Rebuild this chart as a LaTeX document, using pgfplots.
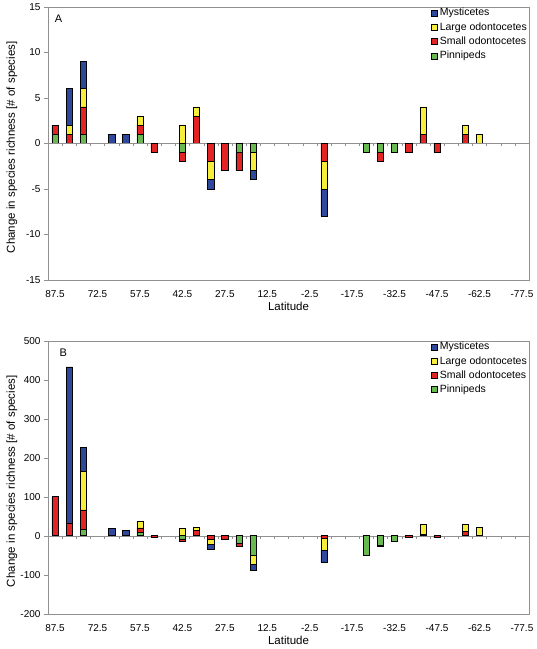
\documentclass[border=0pt]{standalone}
\usepackage{fontspec}
\setmainfont{Liberation Sans}
\usepackage{pgfplots}
\pgfplotsset{compat=1.18}
\definecolor{myst}{RGB}{46,72,156}
\definecolor{large}{RGB}{246,238,58}
\definecolor{small}{RGB}{226,36,36}
\definecolor{pinn}{RGB}{104,186,80}
\definecolor{framegray}{RGB}{145,145,145}
\pgfplotsset{
  common/.style={
    scale only axis, width=481pt, height=273pt,
    xmin=-80, xmax=90, x dir=reverse,
    ybar stacked, bar width=2.2,
    every axis plot/.append style={draw=black, line width=0.5pt},
    font=\fontsize{10}{12}\selectfont,
  },
  mainax/.style={
    common,
    axis line style={framegray},
    xtick={87.5,72.5,57.5,42.5,27.5,12.5,-2.5,-17.5,-32.5,-47.5,-62.5,-77.5},
    xticklabels={87.5,72.5,57.5,42.5,27.5,12.5,-2.5,-17.5,-32.5,-47.5,-62.5,-77.5},
    x tick style={draw=none},
    xticklabel style={yshift=-3pt},
    ytick pos=left, y tick style={framegray}, tick align=outside, major tick length=4pt,
    xlabel={Latitude},
    ylabel={Change in species richness [\# of species]},
    every axis x label/.style={at={(rel axis cs:0.5,0)}, anchor=center, yshift=-27pt,
      font=\fontsize{11.5}{13}\selectfont},
    every axis y label/.style={at={(rel axis cs:0,0.5)}, xshift=-36pt, yshift=-4pt, rotate=90, anchor=center,
      font=\fontsize{11.5}{13}\selectfont},
    reverse legend,
    legend cell align=left,
    legend style={at={(1,1.006)}, anchor=north east, draw=none, fill=none,
      font=\fontsize{10.5}{12}\selectfont, row sep=1.2pt, inner xsep=0pt, inner ysep=1pt},
    legend image code/.code={\draw[#1, draw=black, line width=0.5pt] (0pt,-3pt) rectangle (6pt,3pt);},
  },
  negax/.style={
    common,
    axis y line=none, axis x line=middle,
    x axis line style={-, draw=framegray},
    xtick={-80,-75,...,90}, xticklabels={},
    x tick style={draw=framegray}, tick align=outside, major tick length=3pt,
  },
}
% Panel A
\pgfplotstableread{
lat P S L M
87.5 1 1 0 0
82.5 0 1 1 4
77.5 1 3 2 3
67.5 0 0 0 1
62.5 0 0 0 1
57.5 1 1 1 0
42.5 0 0 2 0
37.5 0 3 1 0
-42.5 0 1 3 0
-57.5 0 1 1 0
-62.5 0 0 1 0
}\posA
\pgfplotstableread{
lat P S L M
52.5 0 -1 0 0
42.5 -1 -1 0 0
32.5 0 -2 -2 -1
27.5 0 -3 0 0
22.5 -1 -2 0 0
17.5 -1 0 -2 -1
-7.5 0 -2 -3 -3
-22.5 -1 0 0 0
-27.5 -1 -1 0 0
-32.5 -1 0 0 0
-37.5 0 -1 0 0
-47.5 0 -1 0 0
}\negA
% Panel B
\pgfplotstableread{
lat P S L M
87.5 0 100 0 0
82.5 0 33 0 400
77.5 16 50 99 61
67.5 0 0 0 18
62.5 0 0 0 14
57.5 8 12 17 0
42.5 0 0 19 0
37.5 0 13 8 0
-42.5 0 3 26 0
-57.5 0 12 17 0
-62.5 0 0 21 0
}\posB
\pgfplotstableread{
lat P S L M
52.5 0 -5 0 0
42.5 -9 -4 0 0
32.5 0 -8 -13 -13
27.5 0 -9 0 0
22.5 -19 -7 0 0
17.5 -50 0 -22 -16
-7.5 0 -7 -30 -32
-22.5 -50 0 0 0
-27.5 -25 -3 0 0
-32.5 -13 0 0 0
-37.5 0 -3 0 0
-47.5 0 -4 0 0
}\negB
\begin{document}
\begin{tikzpicture}
\path[use as bounding box] (0,0) rectangle (537pt,-649pt);
% ---------- Panel A ----------
\begin{axis}[mainax, at={(48pt,-279.8pt)}, anchor=south west,
  ymin=-15, ymax=15, ytick={-15,-10,-5,0,5,10,15},
  yticklabels={-15,-10,-5,0,5,10,15}]
\addplot[fill=pinn] table[x=lat,y=P]{\posA};
\addplot[fill=small] table[x=lat,y=S]{\posA};
\addplot[fill=large] table[x=lat,y=L]{\posA};
\addplot[fill=myst] table[x=lat,y=M]{\posA};
\legend{Pinnipeds,Small odontocetes,Large odontocetes,Mysticetes}
\node[anchor=center, font=\fontsize{11}{13}\selectfont] at (rel axis cs:0.022,0.955) {A};
\end{axis}
\begin{axis}[negax, at={(48pt,-279.8pt)}, anchor=south west, ymin=-15, ymax=15]
\addplot[fill=pinn] table[x=lat,y=P]{\negA};
\addplot[fill=small] table[x=lat,y=S]{\negA};
\addplot[fill=large] table[x=lat,y=L]{\negA};
\addplot[fill=myst] table[x=lat,y=M]{\negA};
\end{axis}
% ---------- Panel B ----------
\begin{axis}[mainax, at={(48pt,-613.7pt)}, anchor=south west,
  ymin=-200, ymax=500, ytick={-200,-100,0,100,200,300,400,500},
  yticklabels={-200,-100,0,100,200,300,400,500}]
\addplot[fill=pinn] table[x=lat,y=P]{\posB};
\addplot[fill=small] table[x=lat,y=S]{\posB};
\addplot[fill=large] table[x=lat,y=L]{\posB};
\addplot[fill=myst] table[x=lat,y=M]{\posB};
\legend{Pinnipeds,Small odontocetes,Large odontocetes,Mysticetes}
\node[anchor=center, font=\fontsize{11}{13}\selectfont] at (rel axis cs:0.032,0.955) {B};
\end{axis}
\begin{axis}[negax, at={(48pt,-613.7pt)}, anchor=south west, ymin=-200, ymax=500]
\addplot[fill=pinn] table[x=lat,y=P]{\negB};
\addplot[fill=small] table[x=lat,y=S]{\negB};
\addplot[fill=large] table[x=lat,y=L]{\negB};
\addplot[fill=myst] table[x=lat,y=M]{\negB};
\end{axis}
\end{tikzpicture}
\end{document}
